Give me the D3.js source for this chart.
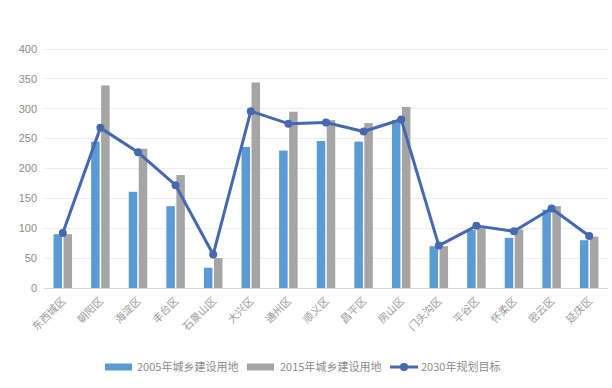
<!DOCTYPE html>
<html><head><meta charset="utf-8">
<script src="https://cdn.jsdelivr.net/npm/d3@7"></script>
<style>body{margin:0;background:#fff;}svg{display:block;font-family:"Noto Sans CJK SC","Noto Sans",sans-serif;}</style>
</head><body>
<svg id="c" width="612" height="388"></svg>
<script>
const categories = ["东西城区","朝阳区","海淀区","丰台区","石景山区","大兴区","通州区","顺义区","昌平区","房山区","门头沟区","平谷区","怀柔区","密云区","延庆区"];
const series2005 = [90,245,161,137,34,236,230,246,245,281,70,97,84,131,80];
const series2015 = [90,339,233,189,50,344,295,281,276,303,70,103,98,137,86];
const target2030 = [92,268,227,172,56,296,275,277,262,282,71,104,95,133,87];
const yTicks = [0,50,100,150,200,250,300,350,400];
const legendLabels = ["2005年城乡建设用地","2015年城乡建设用地","2030年规划目标"];

const svg = d3.select("#c");
const W = 612, H = 388;
const m = {l:44, r:4, t:49, b:100};
const x = d3.scaleBand().domain(categories).range([m.l, W - m.r]).paddingInner(0).paddingOuter(0);
const y = d3.scaleLinear().domain([0,400]).range([288, 49]);

// gridlines
svg.append("g").selectAll("line").data(yTicks).join("line")
  .attr("x1", m.l).attr("x2", W - m.r)
  .attr("y1", d => y(d)).attr("y2", d => y(d))
  .attr("stroke", d => d === 0 ? "#d9d9d9" : "#ececec").attr("stroke-width", 1)
  .attr("shape-rendering","crispEdges");

// y labels
svg.append("g").selectAll("text").data(yTicks).join("text")
  .attr("x", 37).attr("y", d => y(d)).attr("dy","0.35em")
  .attr("text-anchor","end").attr("font-size", 11).attr("fill","#8c8c8c")
  .attr("font-family","Liberation Sans, sans-serif")
  .text(d => d);

const bw = 8.5, gap = 1.5;
const cx = d => x(d) + x.bandwidth()/2;
svg.append("g").selectAll("rect").data(categories).join("rect")
  .attr("x", d => cx(d) - gap/2 - bw).attr("width", bw)
  .attr("y", (d,i) => y(series2005[i])).attr("height", (d,i) => y(0) - y(series2005[i]))
  .attr("fill", "#5b9bd5");
svg.append("g").selectAll("rect").data(categories).join("rect")
  .attr("x", d => cx(d) + gap/2).attr("width", bw)
  .attr("y", (d,i) => y(series2015[i])).attr("height", (d,i) => y(0) - y(series2015[i]))
  .attr("fill", "#a5a5a5");

// line
const line = d3.line().x((d,i) => cx(categories[i])).y(d => y(d));
svg.append("path").datum(target2030).attr("d", line)
  .attr("fill","none").attr("stroke","#4668b0").attr("stroke-width",3).attr("stroke-linejoin","round");
svg.append("g").selectAll("circle").data(target2030).join("circle")
  .attr("cx", (d,i) => cx(categories[i])).attr("cy", d => y(d)).attr("r", 4)
  .attr("fill","#4668b0");

// x labels
svg.append("g").selectAll("text").data(categories).join("text")
  .attr("transform", d => `translate(${cx(d) + 1},${299}) rotate(-45)`)
  .attr("text-anchor","end").attr("dy","0.35em")
  .attr("font-size", 10.5).attr("fill","#9a9a9a")
  .text(d => d);

// legend
const lg = svg.append("g").attr("font-size", 11).attr("fill","#8c8c8c");
const lx = [105, 247, 390];
const tx = [137, 280, 421];
const ly = 367;
lg.append("rect").attr("x", lx[0]).attr("y", ly-3.5).attr("width", 27).attr("height", 7).attr("fill","#5b9bd5");
lg.append("rect").attr("x", lx[1]).attr("y", ly-3.5).attr("width", 27).attr("height", 7).attr("fill","#a5a5a5");
lg.append("line").attr("x1", lx[2]).attr("x2", lx[2]+28).attr("y1", ly).attr("y2", ly).attr("stroke","#4668b0").attr("stroke-width",3);
lg.append("circle").attr("cx", lx[2]+14).attr("cy", ly).attr("r", 4).attr("fill","#4668b0");
legendLabels.forEach((t,i) => {
  lg.append("text").attr("x", tx[i]).attr("y", ly).attr("dy","0.35em").text(t);
});
</script>
</body></html>
